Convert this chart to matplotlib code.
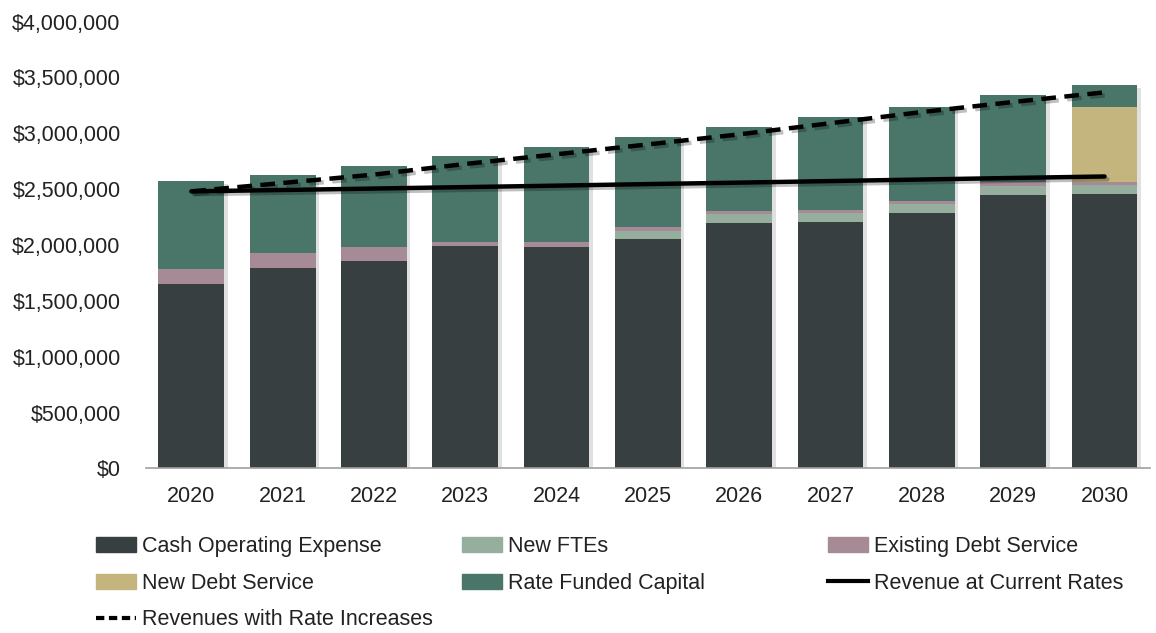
import numpy as np
import matplotlib
matplotlib.use('Agg')
import matplotlib.pyplot as plt
import matplotlib.patheffects as pe
from matplotlib.ticker import FuncFormatter, MultipleLocator
from matplotlib.patches import Patch
from matplotlib.lines import Line2D

plt.rcParams['font.family'] = ['Liberation Sans', 'DejaVu Sans']

# revenue requirement by year
years = ['2020', '2021', '2022', '2023', '2024', '2025', '2026', '2027', '2028', '2029', '2030']
cash_opex = [1651000, 1792000, 1860000, 1988000, 1986000, 2052000, 2201000, 2207000, 2285000, 2449000, 2458000]
new_ftes = [0, 0, 0, 0, 0, 77000, 75000, 75000, 81000, 83000, 81000]
existing_debt = [132000, 135000, 120000, 37000, 39000, 31000, 30000, 30000, 29000, 31000, 29000]
new_debt = [0, 0, 0, 0, 0, 0, 0, 0, 0, 0, 667000]
rate_funded_capital = [794000, 701000, 729000, 767000, 854000, 806000, 746000, 833000, 843000, 776000, 200000]

rev_current = [2480000, 2492000, 2505000, 2518000, 2531000, 2545000, 2558000, 2572000, 2586000, 2600000, 2613000]
rev_increase = [2480000, 2555000, 2630000, 2725000, 2812000, 2900000, 2990000, 3090000, 3190000, 3280000, 3366000]

c_opex = '#373f41'
c_fte = '#95ae9e'
c_exist = '#a68a96'
c_newdebt = '#c4b47d'
c_rfc = '#4a766a'
txt = '#222222'
fs = 15.5

fig = plt.figure(figsize=(11.56, 6.33), dpi=100)
ax = fig.add_axes([0.126, 0.26, 0.869, 0.706])

x = np.arange(len(years))
w = 0.72

# faint shadow behind each full stack
totals = np.sum([cash_opex, new_ftes, existing_debt, new_debt, rate_funded_capital], axis=0)
ax.bar(x, totals, w, color='none', zorder=1,
       path_effects=[pe.SimplePatchShadow(offset=(2.5, -2.5), shadow_rgbFace='k', alpha=0.12)])

bottom = np.zeros(len(years))
for vals, col in [(cash_opex, c_opex), (new_ftes, c_fte), (existing_debt, c_exist),
                  (new_debt, c_newdebt), (rate_funded_capital, c_rfc)]:
    ax.bar(x, vals, w, bottom=bottom, color=col, zorder=2)
    bottom += np.array(vals)

shadow = [pe.SimpleLineShadow(offset=(2, -2), alpha=0.25), pe.Normal()]
ax.plot(x, rev_current, color='k', lw=3.2, solid_capstyle='round', zorder=3, path_effects=shadow)
ax.plot(x, rev_increase, color='k', lw=3.2, linestyle=(0, (3.3, 1.9)), zorder=3, path_effects=shadow)

ax.set_xlim(-0.5, 10.5)
ax.set_ylim(0, 4000000)
ax.yaxis.set_major_locator(MultipleLocator(500000))
ax.yaxis.set_major_formatter(FuncFormatter(lambda v, p: '${:,.0f}'.format(v)))
ax.set_xticks(x)
ax.set_xticklabels(years)
ax.tick_params(length=0, labelsize=fs, colors=txt)
ax.tick_params(axis='y', pad=18)
ax.tick_params(axis='x', pad=13)
for s in ['top', 'right', 'left']:
    ax.spines[s].set_visible(False)
ax.spines['bottom'].set_color('#a0a0a0')
ax.spines['bottom'].set_linewidth(1.2)

# legend laid out as three fixed columns
leg_kw = dict(frameon=False, fontsize=fs, handlelength=1.86, handleheight=0.7,
              handletextpad=0.28, labelspacing=0.72, borderaxespad=0, borderpad=0,
              loc='upper left', labelcolor=txt)
col1 = [Patch(color=c_opex, label='Cash Operating Expense'),
        Patch(color=c_newdebt, label='New Debt Service'),
        Line2D([], [], color='k', lw=3, linestyle=(0, (2, 1.1)), label='Revenues with Rate Increases')]
col2 = [Patch(color=c_fte, label='New FTEs'),
        Patch(color=c_rfc, label='Rate Funded Capital')]
col3 = [Patch(color=c_exist, label='Existing Debt Service'),
        Line2D([], [], color='k', lw=3, label='Revenue at Current Rates')]
for handles, xpos in [(col1, 0.083), (col2, 0.4), (col3, 0.716)]:
    fig.legend(handles=handles, bbox_to_anchor=(xpos, 0.153), **leg_kw)

fig.savefig('out.png', dpi=100)
